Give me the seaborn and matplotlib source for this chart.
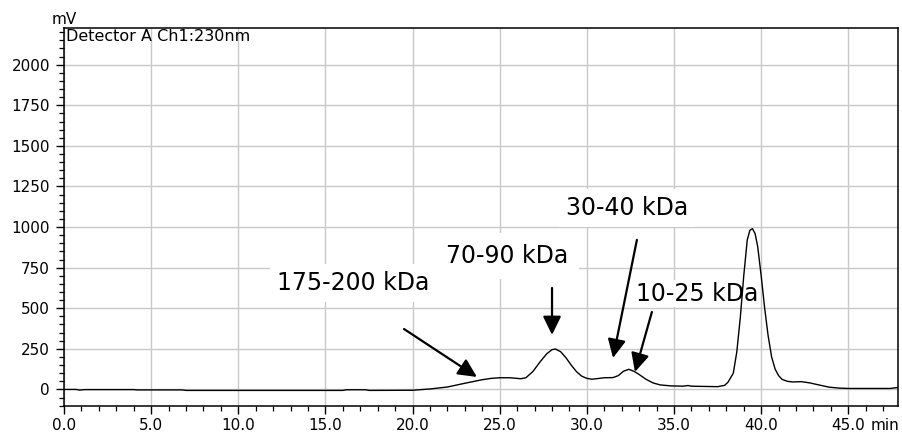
import numpy as np
import pandas as pd
import matplotlib
matplotlib.use('Agg')
import matplotlib.pyplot as plt
import seaborn as sns
from matplotlib.ticker import MultipleLocator

# ---- data ----
time_min = [0.0, 0.7, 0.9, 1.2, 4.0, 4.2, 6.8, 7.0, 16.0, 16.2, 17.3, 17.5, 20.0,
            21.0, 22.0, 23.0, 24.0, 24.5, 25.0, 25.6, 26.2, 26.5, 26.9, 27.3, 27.7,
            28.0, 28.2, 28.5, 28.8, 29.1, 29.4, 29.7, 30.0, 30.3, 30.7, 31.0, 31.5,
            31.8, 32.1, 32.4, 32.7, 33.0, 33.4, 33.8, 34.2, 34.8, 35.5, 35.8, 36.0,
            37.5, 37.9, 38.1, 38.4, 38.6, 38.8, 39.0, 39.2, 39.35, 39.5, 39.65, 39.8,
            40.0, 40.2, 40.4, 40.6, 40.8, 41.0, 41.2, 41.5, 41.8, 42.3, 42.8, 43.3,
            43.9, 44.5, 45.0, 47.4, 47.85]
signal_mv = [0, 0, -4, -1, -1, -3, -3, -6, -6, -2, -2, -6, -5,
             3, 15, 38, 60, 68, 72, 72, 66, 72, 110, 168, 220,
             245, 249, 232, 195, 150, 110, 82, 68, 63, 68, 72, 73,
             85, 112, 124, 112, 92, 62, 40, 28, 22, 20, 24, 20,
             17, 25, 45, 100, 230, 440, 700, 920, 980, 990, 960, 880,
             700, 500, 330, 200, 125, 85, 62, 50, 46, 48, 40, 28,
             14, 8, 6, 6, 12]

x_ticks = [0, 5, 10, 15, 20, 25, 30, 35, 40, 45]
x_tick_labels = ['0.0', '5.0', '10.0', '15.0', '20.0', '25.0', '30.0', '35.0', '40.0', '45.0']
y_ticks = [0, 250, 500, 750, 1000, 1250, 1500, 1750, 2000]
y_tick_labels = ['0', '250', '500', '750', '1000', '1250', '1500', '1750', '2000']

peak_labels = ['175-200 kDa', '70-90 kDa', '30-40 kDa', '10-25 kDa']
label_x = [16.58, 25.42, 32.30, 36.30]
label_y = [656, 822, 1118, 590]
arrow_tail_x = [19.51, 28.00, 32.87, 33.73]
arrow_tail_y = [372, 625, 921, 477]
arrow_head_x = [23.69, 28.00, 31.50, 32.76]
arrow_head_y = [77, 336, 194, 108]

detector_text = 'Detector A Ch1:230nm'

# ---- styling ----
sns.set_theme(style='white')
plt.rcParams['font.family'] = ['DejaVu Sans']

W, H = 903, 434
fig = plt.figure(figsize=(W / 100, H / 100), dpi=100)
ax = fig.add_axes([64 / W, 1 - 406 / H, (898 - 64) / W, (406 - 28) / H])

df = pd.DataFrame({'time': time_min, 'mV': signal_mv})
sns.lineplot(data=df, x='time', y='mV', ax=ax, color='black', linewidth=1.0,
             estimator=None, zorder=5)

ax.set_xlim(0, 47.85)
ax.set_ylim(-102, 2226)
ax.set_xticks(x_ticks)
ax.set_xticklabels(x_tick_labels)
ax.set_yticks(y_ticks)
ax.set_yticklabels(y_tick_labels)
ax.xaxis.set_minor_locator(MultipleLocator(1))
ax.yaxis.set_minor_locator(MultipleLocator(50))
ax.set_xlabel('')
ax.set_ylabel('')

ax.set_axisbelow(True)
ax.grid(True, which='major', color='#c8c8c8', linewidth=1.0)
ax.grid(False, which='minor')
for s in ax.spines.values():
    s.set_visible(True)
    s.set_color('black')
    s.set_linewidth(1.1)

ax.tick_params(axis='both', which='major', direction='out', length=6, width=1,
               color='black', labelsize=11, labelcolor='black', pad=4,
               bottom=True, left=True)
ax.tick_params(axis='x', which='major', pad=2.5)
ax.tick_params(axis='both', which='minor', direction='out', length=3.5, width=0.9,
               color='black', bottom=True, left=True)

ax.text(0.002, 0.997, detector_text, transform=ax.transAxes, ha='left', va='top',
        fontsize=11.5, color='black', zorder=6)
fig.text(52 / W, 1 - 19 / H, 'mV', ha='left', va='center', fontsize=11, color='black')
fig.text(871 / W, 1 - 425 / H, 'min', ha='left', va='center', fontsize=11, color='black')

box_pads = [0.3, 0.45, 0.3, 0.05]
for lab, lx, ly, bp in zip(peak_labels, label_x, label_y, box_pads):
    ax.text(lx, ly, lab, ha='center', va='center', fontsize=17, color='black',
            zorder=3, bbox=dict(boxstyle=f'square,pad={bp}', facecolor='white',
                                edgecolor='none'))

for tx, ty, hx, hy in zip(arrow_tail_x, arrow_tail_y, arrow_head_x, arrow_head_y):
    ax.annotate('', xy=(hx, hy), xytext=(tx, ty), zorder=4,
                arrowprops=dict(arrowstyle='-|>,head_length=0.45,head_width=0.22',
                                mutation_scale=25, color='black', lw=1.6,
                                shrinkA=0, shrinkB=0))

fig.savefig('out.png', dpi=100)
